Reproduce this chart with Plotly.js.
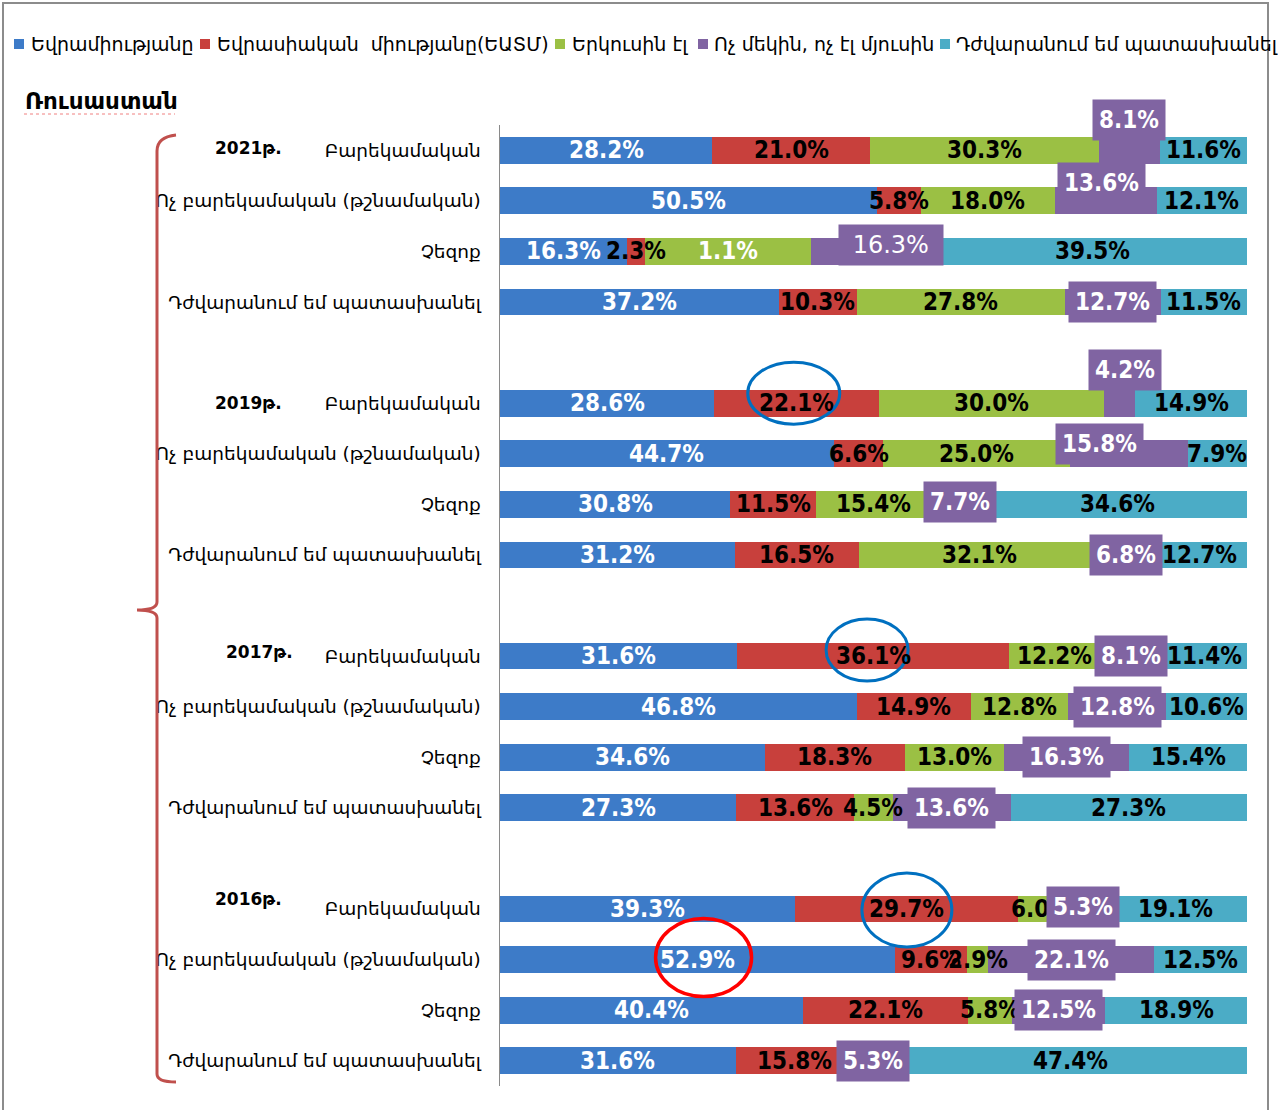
<!DOCTYPE html>
<html>
<head>
<meta charset="utf-8">
<script src="https://cdn.plot.ly/plotly-3.0.1.min.js"></script>
<style>
  html, body { margin: 0; padding: 0; background: #ffffff; }
  #chart { width: 1278px; height: 1110px; }
</style>
</head>
<body>
<div id="chart"></div>
<script>
// ---------------- DATA ----------------
const chartTitle = 'Ռուսաստան';
const years = ['2021թ.', '2019թ.', '2017թ.', '2016թ.'];
const categories = ['Բարեկամական', 'Ոչ բարեկամական (թշնամական)', 'Չեզոք', 'Դժվարանում եմ պատասխանել'];
const seriesNames = ['Եվրամիությանը', 'Եվրասիական  միությանը(ԵԱՏՄ)', 'Երկուսին էլ', 'Ոչ մեկին, ոչ էլ մյուսին', 'Դժվարանում եմ պատասխանել'];

// rows: 2021 (4 categories), 2019, 2017, 2016
const euValues      = [28.2, 50.5, 16.3, 37.2,  28.6, 44.7, 30.8, 31.2,  31.6, 46.8, 34.6, 27.3,  39.3, 52.9, 40.4, 31.6];
const eaeuValues    = [21.0,  5.8,  2.3, 10.3,  22.1,  6.6, 11.5, 16.5,  36.1, 14.9, 18.3, 13.6,  29.7,  9.6, 22.1, 15.8];
const bothValues    = [30.3, 18.0, 21.1, 27.8,  30.0, 25.0, 15.4, 32.1,  12.2, 12.8, 13.0,  4.5,   6.0,  2.9,  5.8,  0.0];
const neitherValues = [ 8.1, 13.6, 16.3, 12.7,   4.2, 15.8,  7.7,  6.8,   8.1, 12.8, 16.3, 13.6,   5.3, 22.1, 12.5,  5.3];
const hardValues    = [11.6, 12.1, 39.5, 11.5,  14.9,  7.9, 34.6, 12.7,  11.4, 10.6, 15.4, 27.3,  19.1, 12.5, 18.9, 47.4];
// label printed on the chart where it differs from the value
const bothLabelOverrides = {2: '1.1%'};

// ---------------- STYLE ----------------
const colors = ['#3D7BC8', '#C8403C', '#9BC044', '#8064A2', '#4BACC6'];
const labelColors = ['#ffffff', '#000000', '#000000', '#ffffff', '#000000'];
const labelFont = '"DejaVu Sans Condensed", "DejaVu Sans", sans-serif';
const armFont = '"DejaVu Sans", sans-serif';
// purple label box offsets (pixels) per row
const neitherXShift = [0, -4, 17, 0,  5, -29, 0, 0,  0, 0, 0, 0,  0, 0, 0, 0];
const neitherYShift = [30, 18, 6, 0,  33, 10, 2, 0,  0, 0, 0, 0,  2, 0, 0, 0];
const neitherBold   = [1, 1, 0, 1,  1, 1, 1, 1,  1, 1, 1, 1,  1, 1, 1, 1];
const yearYShift = [2, 0, 4, 10];
const yearXpx = [248, 248, 259, 248];
// manual legend layout (pixels)
const legendSquareX = [14, 200, 555, 698, 940];
const legendTextX = [29, 215, 570, 712, 954];
const legendY = 44;

// ---------------- BUILD ----------------
const W = 1278, H = 1110;
const M = {l: 500, r: 31, t: 125, b: 24};
const PW = W - M.l - M.r, PH = H - M.t - M.b;
const pxX = x => (x - M.l) / PW;
const pxY = y => (H - M.b - y) / PH;

const allSeries = [euValues, eaeuValues, bothValues, neitherValues, hardValues];
const nRows = euValues.length;
const positions = [];
for (let i = 0; i < nRows; i++) positions.push(Math.floor(i / 4) * 5 + (i % 4));
const totals = [];
for (let i = 0; i < nRows; i++) totals.push(allSeries.reduce((s, a) => s + a[i], 0));
const norm = allSeries.map(a => a.map((v, i) => v / totals[i] * 100));
const starts = allSeries.map((a, s) => a.map((v, i) => {
  let st = 0; for (let k = 0; k < s; k++) st += norm[k][i]; return st;
}));

const fmt = v => v.toFixed(1) + '%';

const traces = allSeries.map((vals, s) => ({
  type: 'bar',
  orientation: 'h',
  name: seriesNames[s],
  x: norm[s],
  y: positions,
  marker: {color: colors[s], line: {width: 0}},
  showlegend: false,
  hoverinfo: 'skip'
}));

const annotations = [];
// segment labels (blue, red, green, teal), drawn above all bars
[0, 1, 2, 4].forEach(s => {
  allSeries[s].forEach((v, i) => {
    if (v === 0) return;
    let txt = fmt(v), col = labelColors[s];
    if (s === 2 && bothLabelOverrides[i] !== undefined) { txt = bothLabelOverrides[i]; col = '#ffffff'; }
    annotations.push({
      x: starts[s][i] + norm[s][i] / 2, y: positions[i], xref: 'x', yref: 'y',
      xanchor: 'center', yanchor: 'middle',
      text: '<b>' + txt + '</b>', showarrow: false,
      font: {family: labelFont, size: 24, color: col}
    });
  });
});
// purple labels in boxes
for (let i = 0; i < nRows; i++) {
  const t = fmt(neitherValues[i]);
  annotations.push({
    x: starts[3][i] + norm[3][i] / 2, y: positions[i], xref: 'x', yref: 'y',
    xanchor: 'center', yanchor: 'middle',
    text: neitherBold[i] ? '<b>' + t + '</b>' : '\u00a0' + t + '\u00a0',
    showarrow: false, bgcolor: '#8064A2', borderpad: 6,
    xshift: neitherXShift[i], yshift: neitherYShift[i],
    font: {family: neitherBold[i] ? labelFont : armFont, size: 24, color: '#ffffff'}
  });
}
// year labels
years.forEach((yr, g) => {
  annotations.push({
    x: pxX(yearXpx[g]), y: positions[g * 4], xref: 'paper', yref: 'y',
    xanchor: 'center', yanchor: 'middle',
    text: '<b>' + yr + '</b>', showarrow: false, yshift: yearYShift[g],
    font: {family: armFont, size: 17, color: '#000000'}
  });
});
// legend texts
seriesNames.forEach((nm, s) => {
  annotations.push({
    x: pxX(legendTextX[s]), y: pxY(legendY), xref: 'paper', yref: 'paper',
    xanchor: 'left', yanchor: 'middle', showarrow: false,
    text: nm.replace(/  /g, ' \u00a0'),
    font: {family: armFont, size: 19, color: '#000000'}
  });
});
// title
annotations.push({
  x: pxX(23), y: pxY(101), xref: 'paper', yref: 'paper',
  xanchor: 'left', yanchor: 'middle', showarrow: false,
  text: '<b>' + chartTitle + '</b>',
  font: {family: armFont, size: 23, color: '#000000'}
});

// bracket, frame, underline
const bx = 157, topY = 137, botY = 1082, midY = 610;
const shapes = [
  {type: 'rect', xref: 'paper', yref: 'paper', x0: pxX(3), x1: pxX(1268), y0: pxY(1115), y1: pxY(3),
   line: {color: '#8c8c8c', width: 2}, fillcolor: 'rgba(0,0,0,0)'},
  {type: 'path', xref: 'paper', yref: 'paper',
   path: `M ${pxX(176)},${pxY(topY-2)} Q ${pxX(bx)},${pxY(topY)} ${pxX(bx)},${pxY(topY+14)} ` +
         `L ${pxX(bx)},${pxY(midY-8)} Q ${pxX(bx)},${pxY(midY)} ${pxX(137)},${pxY(midY)} ` +
         `Q ${pxX(bx)},${pxY(midY)} ${pxX(bx)},${pxY(midY+8)} ` +
         `L ${pxX(bx)},${pxY(botY-8)} Q ${pxX(bx)},${pxY(botY)} ${pxX(176)},${pxY(botY)}`,
   line: {color: '#C0504D', width: 3}},
  {type: 'line', xref: 'paper', yref: 'paper', x0: pxX(24), x1: pxX(175), y0: pxY(114), y1: pxY(114),
   line: {color: '#f08080', width: 1, dash: 'dot'}}
];
// legend squares
colors.forEach((c, s) => {
  shapes.push({type: 'rect', xref: 'paper', yref: 'paper',
    x0: pxX(legendSquareX[s]), x1: pxX(legendSquareX[s] + 10),
    y0: pxY(legendY + 5), y1: pxY(legendY - 5),
    fillcolor: c, line: {width: 0}});
});
// highlight ellipses around particular labels
function ellipse(rowIdx, seriesIdx, w, h, dx, dy, color, width) {
  const cx = starts[seriesIdx][rowIdx] + norm[seriesIdx][rowIdx] / 2;
  return {type: 'circle', xref: 'x', yref: 'y', xsizemode: 'pixel', ysizemode: 'pixel',
    xanchor: cx, yanchor: positions[rowIdx],
    x0: dx - w / 2, x1: dx + w / 2, y0: dy - h / 2, y1: dy + h / 2,
    line: {color: color, width: width}};
}
shapes.push(ellipse(4, 1, 92, 62, -3, 10, '#0070C0', 3));
shapes.push(ellipse(8, 1, 82, 62, -6, 6, '#0070C0', 3));
shapes.push(ellipse(12, 1, 90, 74, 0, -1, '#0070C0', 3));
shapes.push(ellipse(13, 0, 96, 78, 6, 2, '#FF0000', 3.5));

const tickvals = positions.slice();
const ticktext = positions.map((p, i) => categories[i % 4]);

const layout = {
  width: W, height: H,
  margin: M,
  paper_bgcolor: '#ffffff', plot_bgcolor: '#ffffff',
  barmode: 'stack',
  bargap: 0.47,
  showlegend: false,
  xaxis: {range: [0, 100.01], visible: false, fixedrange: true},
  yaxis: {
    range: [18.5, -0.5], tickmode: 'array', tickvals: tickvals, ticktext: ticktext,
    showgrid: false, zeroline: false, showline: true, linecolor: '#8a8a8a', linewidth: 1.5,
    ticks: '', ticklabelstandoff: 14,
    tickfont: {family: armFont, size: 18.5, color: '#000000'}
  },
  annotations: annotations,
  shapes: shapes,
  font: {family: armFont}
};

Plotly.newPlot('chart', traces, layout, {staticPlot: true, displayModeBar: false});
</script>
</body>
</html>
